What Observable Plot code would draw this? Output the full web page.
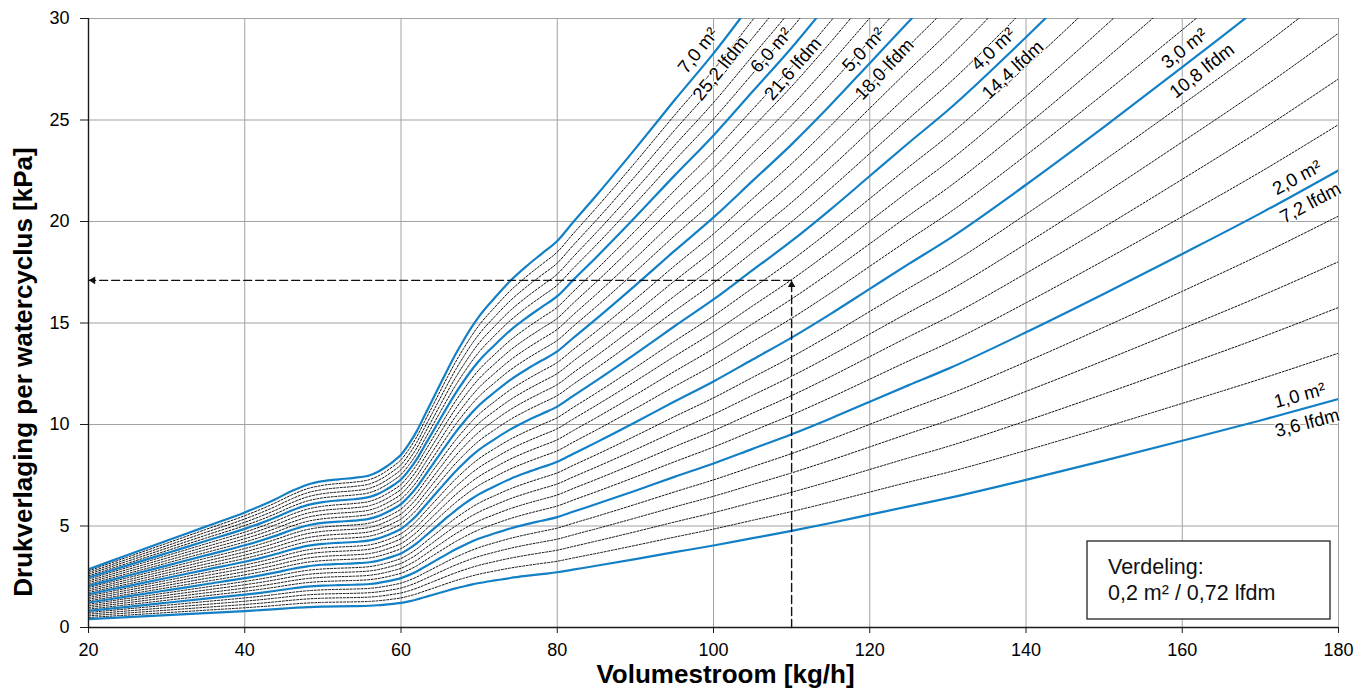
<!DOCTYPE html>
<html>
<head>
<meta charset="utf-8">
<script src="https://cdn.jsdelivr.net/npm/d3@7"></script>
<script src="https://cdn.jsdelivr.net/npm/@observablehq/plot@0.6"></script>
<style>
  html, body { margin: 0; padding: 0; background: white; }
  svg { display: block; }
</style>
</head>
<body>
<div id="chart"></div>
<script>
// ---- data ----
// flow rate (kg/h) and pressure drop per m² of area (kPa per m²)
const flow   = [20, 25, 30, 35, 40, 42, 44, 46, 48, 50, 52, 54, 56, 57, 58, 59, 60, 61, 62, 63, 64, 65, 66, 67, 68, 69, 70, 72, 74, 76, 78, 80, 82, 85, 90, 95, 100, 105, 110, 115, 120, 125, 130, 140, 150, 160, 170, 180];
const perM2  = [0.41, 0.51, 0.61, 0.71, 0.81, 0.855, 0.905, 0.96, 1.005, 1.03, 1.043, 1.053, 1.072, 1.095, 1.128, 1.168, 1.215, 1.29, 1.38, 1.49, 1.60, 1.71, 1.82, 1.925, 2.02, 2.11, 2.19, 2.32, 2.44, 2.54, 2.63, 2.72, 2.85, 3.04, 3.37, 3.71, 4.04, 4.40, 4.76, 5.15, 5.56, 5.97, 6.37, 7.27, 8.22, 9.20, 10.20, 11.26];
// areas (m²): solid blue curves and dotted intermediate curves (step 0.2 m²)
const solidAreas  = [1, 2, 3, 4, 5, 6, 7];
const dottedAreas = [1.2, 1.4, 1.6, 1.8, 2.2, 2.4, 2.6, 2.8, 3.2, 3.4, 3.6, 3.8, 4.2, 4.4, 4.6, 4.8, 5.2, 5.4, 5.6, 5.8, 6.2, 6.4, 6.6, 6.8];
const m2Labels   = ["1,0 m²", "2,0 m²", "3,0 m²", "4,0 m²", "5,0 m²", "6,0 m²", "7,0 m²"];
const lfdmLabels = ["3,6 lfdm", "7,2 lfdm", "10,8 lfdm", "14,4 lfdm", "18,0 lfdm", "21,6 lfdm", "25,2 lfdm"];
// where labels sit: by pressure (top curves) or by flow (right-edge curves)
const labelMode  = ["flow", "flow", "pressure", "pressure", "pressure", "pressure", "pressure"];
const labelPressure = 28;
const labelFlow = 175.5;
// example reading
const exampleFlow = 110;
const examplePressure = 17.1;
// axis ticks
const xTicks = [20, 40, 60, 80, 100, 120, 140, 160, 180];
const yTicks = [0, 5, 10, 15, 20, 25, 30];
const xTitle = "Volumestroom [kg/h]";
const yTitle = "Drukverlaging per watercyclus [kPa]";
const noteLines = ["Verdeling:", "0,2 m² / 0,72 lfdm"];

// ---- layout ----
const W = 1367, H = 693;
const mL = 88, mR = 29, mT = 18, mB = 66;
const kx = (W - mL - mR) / (xTicks[xTicks.length-1] - xTicks[0]);
const ky = (H - mT - mB) / (yTicks[yTicks.length-1] - yTicks[0]);
const FONT = "'Liberation Sans', Arial, Helvetica, sans-serif";
const BLUE = "#1380c6";

const rowsFor = areas => areas.flatMap(a => flow.map((x, i) => ({flow: x, kpa: a * perM2[i], area: a})));
const dottedRows = rowsFor(dottedAreas);
const solidRows = rowsFor(solidAreas);

// label anchors
function anchor(a, mode) {
  for (let i = 0; i < flow.length - 1; i++) {
    let t;
    if (mode === "pressure") {
      const p0 = a * perM2[i], p1 = a * perM2[i+1];
      if (labelPressure < p0 || labelPressure > p1) continue;
      t = (labelPressure - p0) / (p1 - p0);
    } else {
      if (labelFlow < flow[i] || labelFlow > flow[i+1]) continue;
      t = (labelFlow - flow[i]) / (flow[i+1] - flow[i]);
    }
    const x = flow[i] + t * (flow[i+1] - flow[i]);
    const y = a * (perM2[i] + t * (perM2[i+1] - perM2[i]));
    const i0 = Math.max(0, i - 1), i1 = Math.min(flow.length - 1, i + 2);
    const s = a * (perM2[i1] - perM2[i0]) / (flow[i1] - flow[i0]);
    const th = Math.atan(s * ky / kx);
    return {x, y, th};
  }
  return null;
}
const labelMarks = [];
solidAreas.forEach((a, k) => {
  const p = anchor(a, labelMode[k]);
  if (!p) return;
  const nx = -Math.sin(p.th), ny = -Math.cos(p.th);
  const place = (d, text) => ({x: p.x + nx * d / kx, y: p.y - ny * d / ky, text});
  const rot = -p.th * 180 / Math.PI;
  const common = {x: "x", y: "y", text: "text", rotate: rot, fontSize: 18.5, fill: "black",
                  stroke: "white", strokeWidth: 2.5, paintOrder: "stroke", textAnchor: "middle"};
  labelMarks.push(Plot.text([place(13.5, m2Labels[k])], common));
  labelMarks.push(Plot.text([place(-15, lfdmLabels[k])], common));
});

const x0 = xTicks[0], y0 = yTicks[0];
const plot = Plot.plot({
  width: W, height: H,
  marginLeft: mL, marginRight: mR, marginTop: mT, marginBottom: mB,
  style: {fontFamily: FONT, fontSize: "18px", background: "white", color: "black", overflow: "visible"},
  x: {domain: [xTicks[0], xTicks[xTicks.length-1]], label: null},
  y: {domain: [yTicks[0], yTicks[yTicks.length-1]], label: null},
  marks: [
    Plot.ruleX(xTicks, {stroke: "#a2a2a2", strokeWidth: 1, strokeOpacity: 1}),
    Plot.ruleY(yTicks, {stroke: "#a2a2a2", strokeWidth: 1, strokeOpacity: 1}),
    Plot.line(dottedRows, {x: "flow", y: "kpa", z: "area", stroke: "#111", strokeWidth: 1, strokeDasharray: "2,1.6", curve: "monotone-x", clip: true}),
    Plot.line(solidRows, {x: "flow", y: "kpa", z: "area", stroke: BLUE, strokeWidth: 2.2, curve: "monotone-x", clip: true}),
    Plot.axisX({ticks: xTicks, tickSize: 6, tickPadding: 10, fontSize: 18, label: null, tickFormat: d => String(d), stroke: "#1a1a1a", fill: "black"}),
    Plot.axisY({ticks: yTicks, tickSize: 8, tickPadding: 11, fontSize: 18, label: null, tickFormat: d => String(d), stroke: "#1a1a1a", fill: "black"}),
    Plot.ruleX([x0], {stroke: "#1a1a1a", strokeWidth: 1.4}),
    Plot.ruleY([y0], {stroke: "#1a1a1a", strokeWidth: 1.4}),
    // example reading (dashed arrows)
    Plot.line([{x: exampleFlow, y: y0}, {x: exampleFlow, y: examplePressure}], {x: "x", y: "y", stroke: "#111", strokeWidth: 1.4, strokeDasharray: "8,4"}),
    Plot.line([{x: exampleFlow, y: examplePressure}, {x: x0, y: examplePressure}], {x: "x", y: "y", stroke: "#111", strokeWidth: 1.4, strokeDasharray: "8,4"}),
    Plot.dot([{x: exampleFlow, y: examplePressure}], {x: "x", y: "y", symbol: "triangle", r: 2.8, fill: "#111", stroke: "none", dy: 4.5}),
    Plot.dot([{x: x0, y: examplePressure}], {x: "x", y: "y", symbol: "triangle", r: 2.8, fill: "#111", stroke: "none", rotate: -90, dx: 4.5}),
    ...labelMarks
  ]
});
document.getElementById("chart").appendChild(plot);

// titles and note box
const svg = d3.select(plot.tagName.toLowerCase() === "svg" ? plot : plot.querySelector("svg"));
svg.append("text")
  .attr("x", 725.5).attr("y", 683)
  .attr("text-anchor", "middle")
  .style("font-family", FONT).style("font-weight", "bold").style("font-size", "26px")
  .attr("fill", "black")
  .text(xTitle);
svg.append("text")
  .attr("transform", "translate(32,372) rotate(-90)")
  .attr("text-anchor", "middle")
  .style("font-family", FONT).style("font-weight", "bold").style("font-size", "26px")
  .attr("fill", "black")
  .text(yTitle);
const note = svg.append("g").attr("text-anchor", "start");
note.append("rect")
  .attr("x", 1087).attr("y", 541).attr("width", 243).attr("height", 78)
  .attr("fill", "white").attr("stroke", "#111").attr("stroke-width", 1.2);
noteLines.forEach((t, i) => {
  note.append("text")
    .attr("x", 1108).attr("y", 574 + i * 26)
    .attr("text-anchor", "start")
    .style("font-family", FONT).style("font-size", "21.5px")
    .attr("fill", "#111")
    .text(t);
});
</script>
</body>
</html>
